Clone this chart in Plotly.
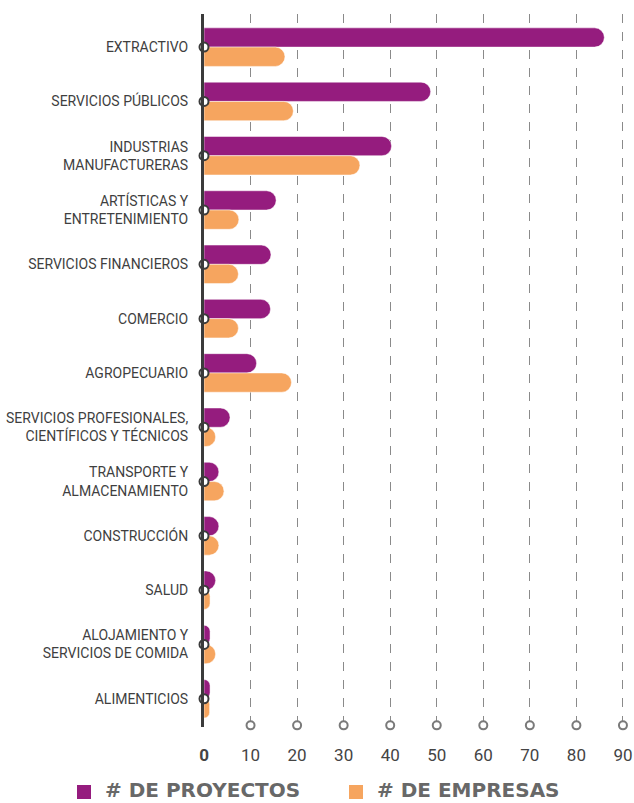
import plotly.graph_objects as go

PURPLE = "#951c7e"
ORANGE = "#f6a55f"
AXIS_DARK = "#3b3b3b"
GREY = "#7a7a7a"

categories = [
    "EXTRACTIVO",
    "SERVICIOS PÚBLICOS",
    "INDUSTRIAS<br>MANUFACTURERAS",
    "ARTÍSTICAS Y<br>ENTRETENIMIENTO",
    "SERVICIOS FINANCIEROS",
    "COMERCIO",
    "AGROPECUARIO",
    "SERVICIOS PROFESIONALES,<br>CIENTÍFICOS Y TÉCNICOS",
    "TRANSPORTE Y<br>ALMACENAMIENTO",
    "CONSTRUCCIÓN",
    "SALUD",
    "ALOJAMIENTO Y<br>SERVICIOS DE COMIDA",
    "ALIMENTICIOS",
]
proyectos = [86, 48.7, 40.3, 15.5, 14.4, 14.3, 11.3, 5.6, 3.2, 3.2, 2.5, 1.3, 1.3]
empresas = [17.4, 19.2, 33.5, 7.5, 7.4, 7.4, 18.8, 2.5, 4.3, 3.2, 1.3, 2.5, 1.2]
x_ticks = [0, 10, 20, 30, 40, 50, 60, 70, 80, 90]
x_ticktext = ["<b>0</b>"] + [str(t) for t in x_ticks[1:]]
series_names = ["# DE PROYECTOS", "# DE EMPRESAS"]

pos = list(range(len(categories)))

LABEL_FONT = "Roboto, sans-serif"
LEGEND_FONT = "DejaVu Sans, sans-serif"

# plot area in pixels: x 204..629, y 14..727
PLOT_L, PLOT_W, PLOT_B, PLOT_H = 204, 425, 727, 713


def px_x(x):
    return (x - PLOT_L) / PLOT_W


def px_y(y):
    return (PLOT_B - y) / PLOT_H


fig = go.Figure()

# Bars
fig.add_trace(
    go.Bar(
        y=pos,
        x=proyectos,
        orientation="h",
        name=series_names[0],
        marker_color=PURPLE,
        marker_cornerradius=10,
        showlegend=False,
        hoverinfo="x",
    )
)
fig.add_trace(
    go.Bar(
        y=pos,
        x=empresas,
        orientation="h",
        name=series_names[1],
        marker_color=ORANGE,
        marker_cornerradius=10,
        showlegend=False,
        hoverinfo="x",
    )
)

# Circles on the category axis
fig.add_trace(
    go.Scatter(
        x=[0] * len(pos),
        y=pos,
        mode="markers",
        marker=dict(size=9, color="white", line=dict(color=AXIS_DARK, width=2)),
        cliponaxis=False,
        showlegend=False,
        hoverinfo="skip",
    )
)

# Circles at the bottom of each gridline
fig.add_trace(
    go.Scatter(
        x=x_ticks[1:],
        y=[12.49] * (len(x_ticks) - 1),
        mode="markers",
        marker=dict(size=8, color="white", line=dict(color=GREY, width=2)),
        cliponaxis=False,
        showlegend=False,
        hoverinfo="skip",
    )
)

# Legend drawn by hand below the chart
legend_items = [(series_names[0], PURPLE, 77), (series_names[1], ORANGE, 349)]
for name, color, x0 in legend_items:
    fig.add_shape(
        type="rect",
        xref="paper",
        yref="paper",
        x0=px_x(x0),
        x1=px_x(x0 + 14),
        y0=px_y(799),
        y1=px_y(785),
        fillcolor=color,
        opacity=1,
        line_width=0,
    )
    fig.add_annotation(
        xref="paper",
        yref="paper",
        x=px_x(x0 + 26),
        y=px_y(789.5),
        xanchor="left",
        yanchor="middle",
        text=f"<b>{name}</b>",
        showarrow=False,
        font=dict(family=LEGEND_FONT, size=20, color="#686868"),
    )

fig.update_layout(
    template="simple_white",
    width=634,
    height=803,
    barmode="group",
    bargap=0.29,
    bargroupgap=0,
    showlegend=False,
    margin={"t": 14, "l": 204, "r": 5, "b": 76, "autoexpand": False},
    plot_bgcolor="white",
    paper_bgcolor="white",
    font=dict(family=LABEL_FONT, color="#3f3f3f", size=14),
)

fig.update_xaxes(
    range=[0, 91.3],
    tickvals=x_ticks,
    ticktext=x_ticktext,
    ticks="",
    ticklabelstandoff=16,
    tickfont=dict(size=17, color="#444444"),
    showline=False,
    showgrid=True,
    gridcolor="#8a8a8a",
    griddash="dash",
    gridwidth=1,
    zeroline=False,
    automargin=False,
)
fig.update_yaxes(
    range=[12.52, -0.61],
    tickvals=pos,
    ticktext=categories,
    ticks="",
    ticklabelstandoff=10,
    tickfont=dict(size=14, color="#3f3f3f"),
    showline=True,
    linecolor=AXIS_DARK,
    linewidth=3,
    showgrid=False,
    zeroline=False,
    automargin=False,
)

# the page's default body margin would push the fixed-size figure off screen
fig.write_html(
    "out.html",
    config={"displayModeBar": False},
    post_script="document.body.style.margin = '0';",
)
